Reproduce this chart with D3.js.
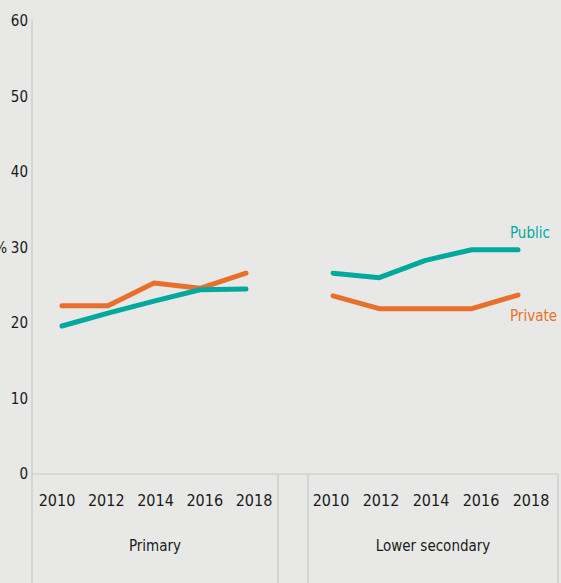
<!DOCTYPE html>
<html>
<head>
<meta charset="utf-8">
<script src="https://cdn.jsdelivr.net/npm/d3@7"></script>
<style>
  body { margin: 0; background: #e8e9e7; }
  svg { display: block; font-family: "DejaVu Sans Condensed", "Noto Sans", sans-serif; }
  .tick-label { font-size: 15px; fill: #1a1a1a; }
</style>
</head>
<body>
<svg width="561" height="583"></svg>
<script>
// data
var years = ["2010", "2012", "2014", "2016", "2018"];
var levels = ["Primary", "Lower secondary"];
var yTicks = [0, 10, 20, 30, 40, 50, 60];
var publicPrimary = [19.6, 21.3, 22.9, 24.4, 24.5];
var privatePrimary = [22.3, 22.3, 25.3, 24.6, 26.6];
var publicLowerSec = [26.6, 26.0, 28.3, 29.7, 29.7];
var privateLowerSec = [23.6, 21.9, 21.9, 21.9, 23.7];

var svg = d3.select("svg"),
    axisColor = "#c6c8ca",
    publicColor = "#00a99d",
    privateColor = "#e8702a";

var y = d3.scaleLinear().domain([0, 60]).range([474, 21]);

// panel boxes, label positions and line extents for each level
var panels = [
  {box: [32, 278], labels: [57, 254], lines: [62, 246], pub: publicPrimary, priv: privatePrimary},
  {box: [308, 558], labels: [331, 531], lines: [333, 518], pub: publicLowerSec, priv: privateLowerSec}
];

// y axis line
svg.append("line")
    .attr("x1", 32).attr("x2", 32)
    .attr("y1", 19).attr("y2", 583)
    .attr("stroke", axisColor).attr("stroke-width", 1.2);

// baseline
svg.append("line")
    .attr("x1", 32).attr("x2", 558)
    .attr("y1", y(0)).attr("y2", y(0))
    .attr("stroke", axisColor).attr("stroke-width", 1.2);

svg.selectAll(".ytick")
    .data(yTicks)
    .enter().append("text")
    .attr("class", "tick-label")
    .attr("x", 28)
    .attr("y", function (d) { return y(d); })
    .attr("dy", "0.35em")
    .attr("text-anchor", "end")
    .text(function (d) { return d; });

svg.append("text")
    .attr("class", "tick-label")
    .attr("x", 7)
    .attr("y", y(30))
    .attr("dy", "0.35em")
    .attr("text-anchor", "end")
    .text("%");

var line = d3.line()
    .x(function (d) { return d.x; })
    .y(function (d) { return y(d.v); });

panels.forEach(function (p, i) {
  var xl = d3.scalePoint().domain(years).range(p.labels);
  var xs = d3.scalePoint().domain(years).range(p.lines);

  // panel separators
  p.box.forEach(function (bx) {
    if (bx === 32) return;
    svg.append("line")
        .attr("x1", bx).attr("x2", bx)
        .attr("y1", y(0)).attr("y2", 583)
        .attr("stroke", axisColor).attr("stroke-width", 1.2);
  });

  svg.append("g").selectAll("text")
      .data(years)
      .enter().append("text")
      .attr("class", "tick-label")
      .attr("x", function (d) { return xl(d); })
      .attr("y", 506)
      .attr("text-anchor", "middle")
      .style("font-size", "16px")
      .text(function (d) { return d; });

  svg.append("text")
      .attr("class", "tick-label")
      .attr("x", (p.box[0] + p.box[1]) / 2)
      .attr("y", 551)
      .attr("text-anchor", "middle")
      .text(levels[i]);

  [[p.priv, privateColor], [p.pub, publicColor]].forEach(function (s) {
    svg.append("path")
        .datum(years.map(function (yr, j) { return {x: xs(yr), v: s[0][j]}; }))
        .attr("d", line)
        .attr("fill", "none")
        .attr("stroke", s[1])
        .attr("stroke-width", 5)
        .attr("stroke-linecap", "round")
        .attr("stroke-linejoin", "round");
  });
});

// series labels
svg.append("text")
    .attr("x", 510).attr("y", 238)
    .style("font-size", "15px")
    .attr("fill", publicColor)
    .text("Public");

svg.append("text")
    .attr("x", 510).attr("y", 321)
    .style("font-size", "15px")
    .attr("fill", privateColor)
    .text("Private");
</script>
</body>
</html>
